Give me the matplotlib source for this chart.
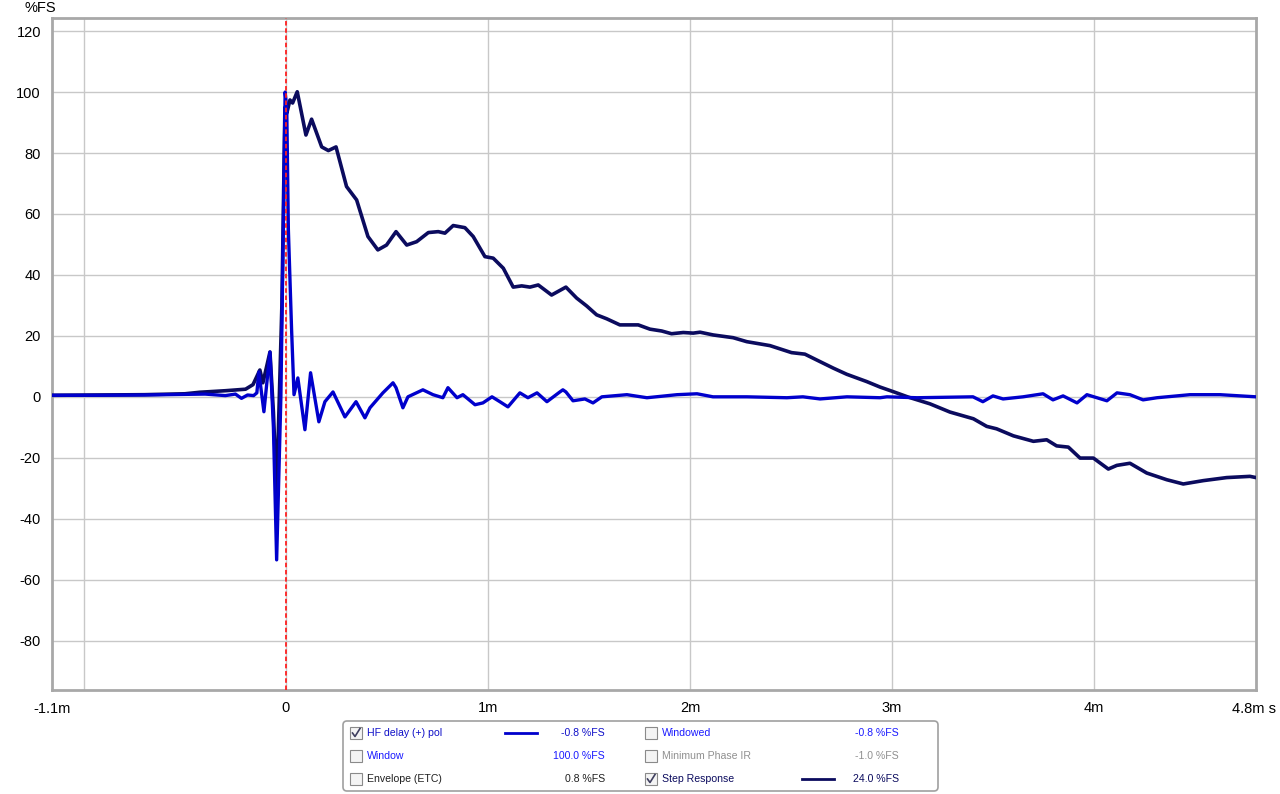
import numpy as np
import matplotlib.pyplot as plt
from matplotlib.patches import FancyBboxPatch, Rectangle

plt.rcParams['font.family'] = ['Liberation Sans', 'DejaVu Sans']
plt.rcParams['axes.unicode_minus'] = False

# impulse response, "HF delay (+) pol" (time in ms, level in %FS)
ir_t = [-1.158, -0.92, -0.70, -0.50, -0.40, -0.30, -0.25, -0.22, -0.19, -0.16,
        -0.144, -0.134, -0.109, -0.079, -0.062, -0.046, -0.025, -0.012, -0.004,
        0.004, 0.012, 0.028, 0.040, 0.059, 0.094, 0.122, 0.163, 0.193, 0.233,
        0.292, 0.347, 0.391, 0.416, 0.480, 0.515, 0.530, 0.545, 0.579, 0.604,
        0.678, 0.728, 0.777, 0.802, 0.847, 0.876, 0.936, 0.975, 1.020, 1.059,
        1.099, 1.158, 1.198, 1.243, 1.292, 1.356, 1.371, 1.386, 1.421, 1.480,
        1.520, 1.564, 1.688, 1.787, 1.936, 2.035, 2.114, 2.282, 2.480, 2.559,
        2.644, 2.777, 2.941, 2.975, 3.124, 3.401, 3.450, 3.500, 3.550, 3.649,
        3.748, 3.797, 3.847, 3.916, 3.965, 4.064, 4.114, 4.178, 4.243, 4.312,
        4.475, 4.624, 4.802]
ir_v = [0.5, 0.5, 0.6, 0.8, 0.9, 0.4, 0.9, -0.5, 0.6, 0.4,
        1.3, 8.2, -4.9, 14.7, -10.0, -53.5, 0.0, 60.0, 100.0,
        95.0, 55.0, 22.0, 0.7, 6.2, -10.8, 7.9, -8.2, -1.6, 1.6,
        -6.6, -1.6, -6.9, -3.6, 1.3, 3.6, 4.6, 3.0, -3.6, 0.0,
        2.3, 0.7, -0.3, 3.0, -0.3, 0.7, -2.6, -2.0, 0.0, -1.6,
        -3.3, 1.3, -0.3, 1.3, -1.6, 1.6, 2.3, 1.6, -1.3, -0.7,
        -2.0, 0.0, 0.7, -0.3, 0.7, 1.0, 0.0, 0.0, -0.3, 0.0,
        -0.7, 0.0, -0.3, 0.0, -0.3, 0.0, -1.6, 0.3, -0.7, 0.0,
        1.0, -1.0, 0.3, -2.0, 0.7, -1.3, 1.3, 0.7, -1.0, -0.3,
        0.7, 0.7, 0.0]

# step response
st_t = [-1.158, -0.70, -0.50, -0.426, -0.30, -0.20, -0.163, -0.129, -0.114,
        -0.079, -0.062, -0.046, -0.020, -0.005, 0.004, 0.020, 0.033, 0.056,
        0.099, 0.127, 0.177, 0.210, 0.248, 0.300, 0.350, 0.406, 0.455, 0.498,
        0.545, 0.598, 0.647, 0.705, 0.754, 0.787, 0.828, 0.886, 0.927, 0.985,
        1.026, 1.076, 1.125, 1.167, 1.208, 1.249, 1.315, 1.386, 1.439, 1.489,
        1.538, 1.588, 1.653, 1.744, 1.802, 1.860, 1.909, 1.967, 2.016, 2.050,
        2.115, 2.214, 2.281, 2.396, 2.503, 2.569, 2.627, 2.710, 2.776, 2.875,
        2.941, 3.006, 3.081, 3.188, 3.287, 3.403, 3.469, 3.518, 3.601, 3.700,
        3.766, 3.815, 3.873, 3.931, 3.997, 4.071, 4.113, 4.178, 4.261, 4.360,
        4.442, 4.541, 4.657, 4.772, 4.802]
st_v = [0.5, 0.7, 1.0, 1.5, 2.0, 2.5, 4.0, 8.8, 4.6,
        14.7, -5.0, -31.5, 30.0, 95.0, 93.0, 97.4, 96.4, 100.1,
        85.9, 91.1, 82.0, 80.8, 82.0, 69.0, 64.6, 52.6, 48.2, 49.8,
        54.2, 49.8, 50.9, 53.9, 54.2, 53.7, 56.2, 55.5, 52.6, 46.0,
        45.5, 42.2, 36.0, 36.4, 36.0, 36.7, 33.4, 36.0, 32.4, 29.8,
        26.9, 25.6, 23.6, 23.6, 22.2, 21.6, 20.7, 21.1, 20.9, 21.2,
        20.3, 19.4, 18.1, 16.8, 14.5, 14.0, 12.1, 9.4, 7.4, 5.0,
        3.2, 1.7, -0.1, -2.3, -5.0, -7.2, -9.7, -10.5, -12.8, -14.6,
        -14.1, -16.1, -16.5, -20.1, -20.1, -23.7, -22.5, -21.8, -25.0, -27.2,
        -28.6, -27.5, -26.5, -26.1, -26.5]

x_ticks = [-1, 0, 1, 2, 3, 4]
x_labels = ['', '0', '1m', '2m', '3m', '4m']
y_ticks = [-80, -60, -40, -20, 0, 20, 40, 60, 80, 100, 120]

W, H = 1280, 794
fig = plt.figure(figsize=(12.8, 7.94), dpi=100)

ax = fig.add_axes([52 / W, 1 - 690 / H, 1204 / W, 672 / H])
ax.set_xlim(-1.158, 4.802)
ax.set_ylim(-96.2, 124.3)
ax.set_xticks(x_ticks)
ax.set_xticklabels(x_labels)
ax.set_yticks(y_ticks)
ax.tick_params(length=0, labelsize=10.5, pad=8)
ax.grid(True, color='#c8c8c8', lw=1)
ax.set_axisbelow(True)
for s in ax.spines.values():
    s.set_color('#a8a8a8')
    s.set_linewidth(2)

ax.plot(st_t, st_v, color='#0b0b5e', lw=2.6, solid_joinstyle='round', zorder=3)
ax.plot(ir_t, ir_v, color='#0000cc', lw=2.4, solid_joinstyle='round', zorder=4)
ax.axvline(0, color='#ff2020', lw=1.3, ls=(0, (2.5, 1.5)), zorder=5)

fig.text(40 / W, 1 - 8 / H, '%FS', fontsize=10.5, ha='center', va='center')
fig.text(52 / W, 1 - 709 / H, '-1.1m', fontsize=10.5, ha='center', va='center')
fig.text(1232 / W, 1 - 709 / H, '4.8m s', fontsize=10.5, ha='left', va='center')

# legend panel
lg = fig.add_axes([342 / W, 1 - 792 / H, 597 / W, 72 / H])
lg.set_xlim(0, 597)
lg.set_ylim(72, 0)
lg.axis('off')
lg.add_patch(FancyBboxPatch((1, 1), 595, 70, boxstyle='round,pad=0,rounding_size=4',
                            fc='white', ec='#a0a0a0', lw=1.2))

rows = [
    (13, 'HF delay (+) pol', '#1010c8', True, '-0.8 %FS', '#1010c8', '#0000cc'),
    (36, 'Window', '#1a1aff', False, '100.0 %FS', '#1a1aff', None),
    (59, 'Envelope (ETC)', '#202020', False, '0.8 %FS', '#202020', None),
]
rows2 = [
    (13, 'Windowed', '#1a1aff', False, '-0.8 %FS', '#1a1aff', None),
    (36, 'Minimum Phase IR', '#909090', False, '-1.0 %FS', '#909090', None),
    (59, 'Step Response', '#0b0b5e', True, '24.0 %FS', '#0b0b5e', '#0b0b5e'),
]
for col, items, cb_x, ln_x, val_x in [(0, rows, 8, 163, 263), (1, rows2, 303, 460, 557)]:
    for y, label, lc, checked, val, vc, line_c in items:
        lg.add_patch(Rectangle((cb_x, y - 6), 12, 12, fc='#f4f4f4', ec='#8a8a8a', lw=0.8))
        if checked:
            lg.plot([cb_x + 2.5, cb_x + 5, cb_x + 10], [y, y + 3.5, y - 4.5],
                    color='#404060', lw=1.2)
        lg.text(cb_x + 17, y, label, fontsize=7.6, color=lc, va='center', ha='left')
        lg.text(val_x, y, val, fontsize=7.6, color=vc, va='center', ha='right')
        if line_c:
            lg.plot([ln_x, ln_x + 32], [y, y], color=line_c, lw=2)

fig.savefig('out.png', dpi=100)
